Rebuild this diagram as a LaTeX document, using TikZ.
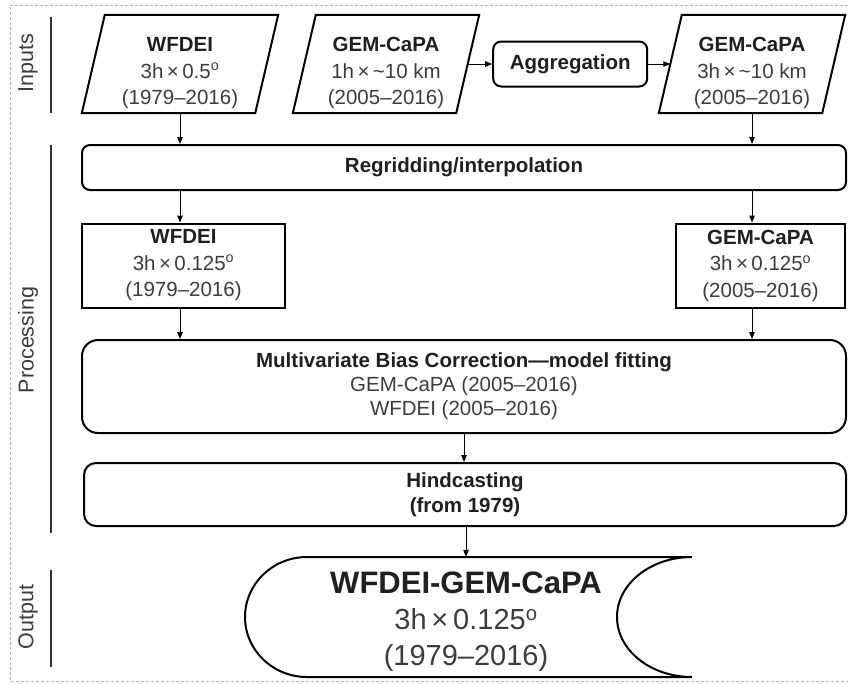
\documentclass[tikz,border=0pt]{standalone}
\usepackage{fontspec}
\setmainfont{Liberation Sans}
\usepackage{xcolor}
\usepackage{tikz}
\usetikzlibrary{shapes.geometric,arrows.meta,positioning}

\definecolor{txtgray}{HTML}{3C3C3C}
\definecolor{framegray}{HTML}{B4B4B4}
\newcommand{\hd}[1]{\textcolor{black!88}{\textbf{#1}}}
\newcommand{\dgr}{\textsuperscript{o}}
\newcommand{\bytimes}{\,×\,}
\newcommand{\topgap}{\rule{0pt}{33pt}}

\begin{document}
\begin{tikzpicture}[x=1pt, y=-1pt,
    inbox/.style={rectangle, minimum height=98pt, inner sep=0pt,
                  align=center, text=txtgray,
                  font=\fontsize{20.5}{26.5}\selectfont},
    slant/.style={line width=2pt, line join=miter},
    stepbox/.style={draw, rectangle, rounded corners=8pt, line width=2pt,
                    inner sep=0pt, align=center, text=txtgray,
                    font=\fontsize{20.5}{24.5}\selectfont},
    databox/.style={draw, rectangle, line width=2pt, inner sep=0pt,
                    minimum height=84pt, align=center, text=txtgray,
                    font=\fontsize{20.5}{26.5}\selectfont},
    sidelbl/.style={rotate=90, text=txtgray, font=\fontsize{21.5}{24}\selectfont},
    bar/.style={line width=1.4pt, black!80},
    arrow/.style={-{Triangle[length=7pt,width=5.5pt]}, line width=1pt},
    node distance=24.5pt
]
\useasboundingbox (0,0) rectangle (848,683);
\draw[framegray, dash pattern=on 3pt off 2pt, line width=0.7pt]
  (848,5) -- (10,5) -- (10,681) -- (848,681);

% side labels
\node[sidelbl] (lblin) at (28,63) {Inputs};
\node[sidelbl] (lblproc) at (28,340) {Processing};
\node[sidelbl] (lblout) at (28,617) {Output};
\draw[bar] (51,17) -- (51,113);
\draw[bar] (51,145) -- (51,533);
\draw[bar] (51,570) -- (51,667);

% inputs
\node[inbox, minimum width=173pt] (wfdei) at (180,64)
  {\topgap\hd{WFDEI}\\3h\bytimes0.5\dgr\\(1979–2016)};
\node[inbox, minimum width=163pt] (gemh) at (386,64)
  {\topgap\hd{GEM-CaPA}\\1h\bytimes\textasciitilde10 km\\(2005–2016)};
\node[stepbox, minimum width=154pt, minimum height=45pt, right=of gemh] (agg)
  {\hd{Aggregation}};
\node[inbox, minimum width=163pt] (gem3h) at (752,64)
  {\topgap\hd{GEM-CaPA}\\3h\bytimes\textasciitilde10 km\\(2005–2016)};
\foreach \n in {wfdei,gemh,gem3h}
  \draw[slant] ([xshift=-11.5pt]\n.south west) -- ([xshift=11.5pt]\n.north west)
    -- ([xshift=11.5pt]\n.north east) -- ([xshift=-11.5pt]\n.south east) -- cycle;

\draw[arrow] (gemh) -- (agg);
\draw[arrow] (agg) -- (gem3h);

% processing
\node[stepbox, minimum width=764pt, minimum height=45pt] (regrid) at (464,167.5)
  {\hd{Regridding/interpolation}};
\node[databox, minimum width=203pt] (wfdeir) at (183.5,265.5)
  {\hd{WFDEI}\\3h\bytimes0.125\dgr\\(1979–2016)};
\node[databox, minimum width=169pt] (gemr) at (760.5,265.5)
  {\hd{GEM-CaPA}\\3h\bytimes0.125\dgr\\(2005–2016)};
\node[stepbox, rounded corners=16pt, minimum width=764pt, minimum height=93pt,
      font=\fontsize{20.5}{24}\selectfont] (mbc) at (464,386.5)
  {\hd{Multivariate Bias Correction—model fitting}\\GEM-CaPA (2005–2016)\\WFDEI (2005–2016)};
\node[stepbox, rounded corners=12pt, minimum width=762pt, minimum height=63pt]
  (hind) at (465,494.5) {\hd{Hindcasting}\\[1pt]\hd{(from 1979)}};

\draw[arrow] (wfdei.south) -- (wfdei.south |- regrid.north);
\draw[arrow] (gem3h.south) -- (gem3h.south |- regrid.north);
\draw[arrow] (regrid.south -| wfdei.south) -- (wfdeir.north -| wfdei.south);
\draw[arrow] (regrid.south -| gem3h.south) -- (gemr.north -| gem3h.south);
\draw[arrow] (wfdeir.south -| wfdei.south) -- (mbc.north -| wfdei.south);
\draw[arrow] (gemr.south -| gem3h.south) -- (mbc.north -| gem3h.south);
\draw[arrow] (mbc.south) -- (mbc.south |- hind.north);

% output
\node[align=center, text=txtgray, inner sep=0pt, minimum height=130pt,
      font=\fontsize{29}{36}\selectfont] (wgc) at (466,622)
  {{\fontsize{31}{36}\selectfont\hd{WFDEI-GEM-CaPA}}\\3h\bytimes0.125\dgr\\(1979–2016)};
\draw[line width=2pt] (692,557) -- (307,557)
  arc[start angle=270, end angle=90, x radius=62, y radius=60]
  -- (692,677)
  arc[start angle=90, end angle=270, x radius=75, y radius=60];
\draw[arrow] (hind.south -| wgc.north) -- (wgc.north);
\end{tikzpicture}
\end{document}
